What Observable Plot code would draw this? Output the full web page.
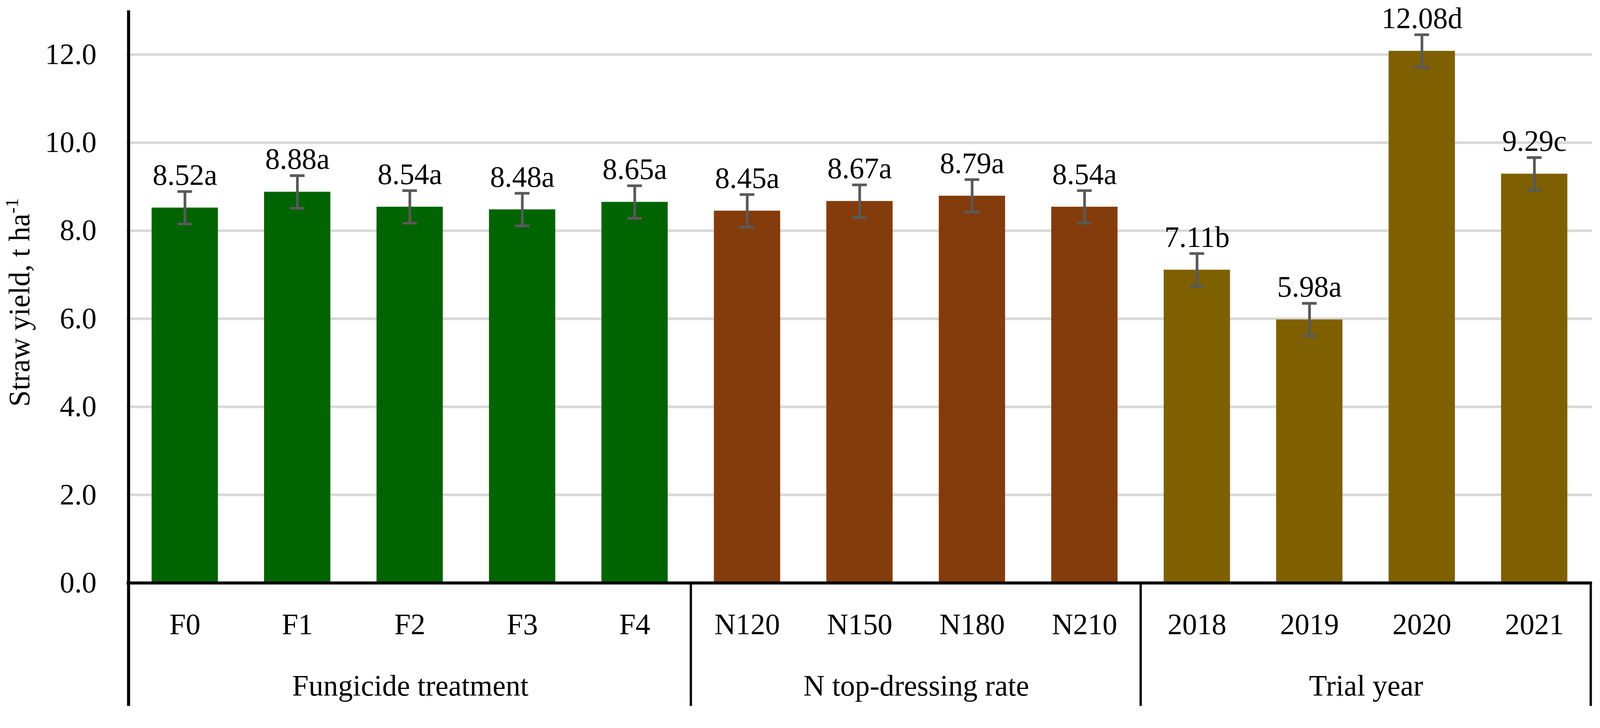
<!DOCTYPE html>
<html>
<head>
<meta charset="utf-8">
<script src="https://cdn.jsdelivr.net/npm/d3@7"></script>
<script src="https://cdn.jsdelivr.net/npm/@observablehq/plot@0.6"></script>
<style>
  html, body { margin: 0; padding: 0; background: #fff; }
  #chart svg { display: block; }
  #chart svg text { font-family: 'Liberation Serif', 'Times New Roman', Times, serif !important; }
</style>
</head>
<body>
<div id="chart"></div>
<script>
// ---- data ----
const categories = ["F0", "F1", "F2", "F3", "F4", "N120", "N150", "N180", "N210", "2018", "2019", "2020", "2021"];
const groups = [
  "Fungicide treatment", "Fungicide treatment", "Fungicide treatment", "Fungicide treatment", "Fungicide treatment",
  "N top-dressing rate", "N top-dressing rate", "N top-dressing rate", "N top-dressing rate",
  "Trial year", "Trial year", "Trial year", "Trial year"
];
const values = [8.52, 8.88, 8.54, 8.48, 8.65, 8.45, 8.67, 8.79, 8.54, 7.11, 5.98, 12.08, 9.29];
const errors = [0.37, 0.37, 0.37, 0.37, 0.37, 0.37, 0.37, 0.37, 0.37, 0.37, 0.37, 0.37, 0.37];
const letters = ["a", "a", "a", "a", "a", "a", "a", "a", "a", "b", "a", "d", "c"];
const groupNames = ["Fungicide treatment", "N top-dressing rate", "Trial year"];
const groupColors = ["#006400", "#843C0C", "#7F6000"];
const yTicks = [0, 2, 4, 6, 8, 10, 12];
const yLabel = "Straw yield, t ha";
const yLabelSup = "-1";

// ---- layout ----
const W = 4183, H = 1863;
const mL = 331, mR = 21, mT = 27, mB = 340;
const plotH = H - mT - mB;
const step = (W - mL - mR) / categories.length;
const barInset = (step - 174) / 2;
const capInset = (step - 39) / 2;
const ext = 322;
const FS = 77;
const font = "'Liberation Serif', 'Times New Roman', Times, serif";

const data = categories.map((c, i) => ({
  cat: c, group: groups[i], value: values[i], err: errors[i],
  label: values[i].toFixed(2) + letters[i]
}));

const firstOf = g => categories[groups.indexOf(g)];
const countOf = g => groups.filter(x => x === g).length;
const boundaries = groupNames.slice(1).map(firstOf);

const groupLabelMarks = groupNames.map(g =>
  Plot.text([g], {
    x: () => firstOf(g),
    text: d => d,
    frameAnchor: "bottom",
    lineAnchor: "bottom",
    dy: 294,
    dx: (countOf(g) - 1) * step / 2,
    fontSize: FS,
    fontFamily: font,
    fill: "#000"
  })
);

const chart = Plot.plot({
  width: W,
  height: H,
  marginLeft: mL,
  marginRight: mR,
  marginTop: mT,
  marginBottom: mB,
  style: { fontFamily: font, fontSize: FS + "px", color: "#000", background: "#fff" },
  x: { domain: categories, padding: 0, label: null },
  y: { domain: [0, 13], label: null },
  color: { domain: groupNames, range: groupColors },
  marks: [
    Plot.gridY(yTicks.filter(t => t > 0), { stroke: "#d9d9d9", strokeOpacity: 1, strokeWidth: 7 }),
    Plot.barY(data, { x: "cat", y: "value", fill: "group", insetLeft: barInset, insetRight: barInset }),
    Plot.ruleY([0], { stroke: "#000", strokeWidth: 8 }),
    Plot.ruleX([categories[0]], { x: d => d, dx: -step / 2, stroke: "#000", strokeWidth: 8, insetBottom: -ext }),
    Plot.ruleX(boundaries, { x: d => d, dx: -step / 2, stroke: "#000", strokeWidth: 6, insetTop: plotH, insetBottom: -ext }),
    Plot.ruleX([categories[categories.length - 1]], { x: d => d, dx: step / 2, stroke: "#000", strokeWidth: 6, insetTop: plotH, insetBottom: -ext }),
    Plot.ruleX(data, { x: "cat", y1: d => d.value - d.err, y2: d => d.value + d.err, stroke: "#595959", strokeWidth: 7 }),
    Plot.tickY(data, { x: "cat", y: d => d.value + d.err, stroke: "#595959", strokeWidth: 7, insetLeft: capInset, insetRight: capInset }),
    Plot.tickY(data, { x: "cat", y: d => d.value - d.err, stroke: "#595959", strokeWidth: 7, insetLeft: capInset, insetRight: capInset }),
    Plot.text(data, { x: "cat", y: "value", text: "label", lineAnchor: "bottom", dy: -60, fontSize: FS, fontFamily: font, fill: "#000" }),
    Plot.axisY({ ticks: yTicks, tickFormat: d3.format(".1f"), tickSize: 0, tickPadding: 79, fontSize: FS, fontFamily: font, label: null }),
    Plot.axisX({ tickSize: 0, tickPadding: 79, fontSize: FS, fontFamily: font, label: null }),
    ...groupLabelMarks,
    Plot.text([yLabel], {
      text: d => d,
      frameAnchor: "left",
      rotate: -90,
      lineAnchor: "bottom",
      textAnchor: "middle",
      dx: 76 - mL,
      dy: 15,
      fontSize: FS,
      fontFamily: font,
      fill: "#000"
    })
  ]
});

document.getElementById("chart").appendChild(chart);

// superscript on the y-axis title
d3.select(chart).selectAll("text").each(function () {
  if (this.textContent === yLabel) {
    d3.select(this).append("tspan")
      .attr("font-size", "48px")
      .attr("dy", -30)
      .text(yLabelSup);
  }
});
</script>
</body>
</html>
